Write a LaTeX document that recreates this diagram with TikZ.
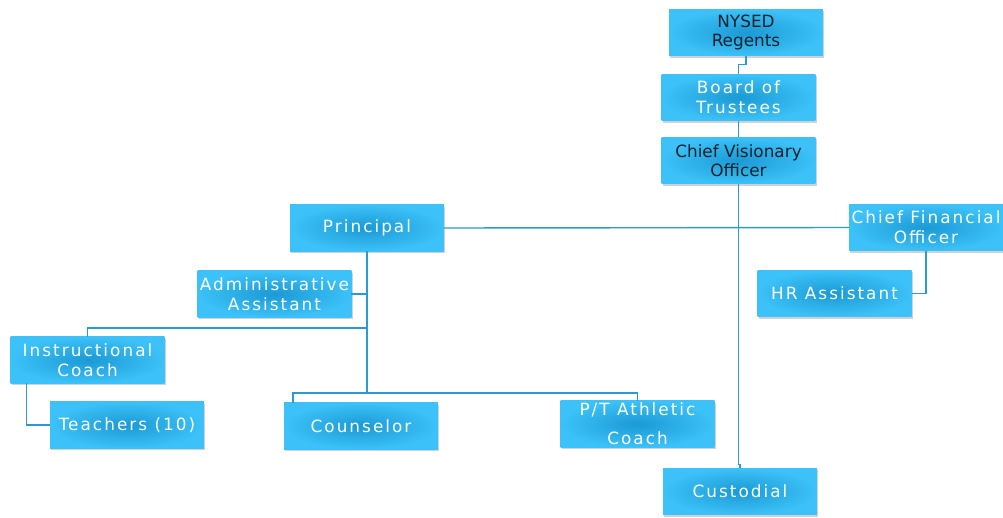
\documentclass[tikz,border=0pt]{standalone}
\usepackage{fontspec}
\usetikzlibrary{calc,shadows}
\newfontfamily\orgwide[LetterSpace=12]{DejaVu Sans}
\newfontfamily\orgplain{DejaVu Sans}
\definecolor{boxedge}{HTML}{3CC1F8}
\definecolor{boxcore}{HTML}{1B9AD5}
\definecolor{linkblue}{HTML}{2A9BD0}
\definecolor{darktext}{HTML}{14222C}
\begin{document}
\begin{tikzpicture}[
            x=0.02cm,
            y=-0.02cm,
            org box/.style={inner color=boxcore, outer color=boxedge, minimum width=3.08cm, minimum height=0.93cm, inner sep=0pt, outer sep=0pt, align=center, text=white, font=\orgwide\fontsize{9.6}{11.5}\selectfont, drop shadow={shadow xshift=0.6pt, shadow yshift=-1.2pt, opacity=0.3, fill=black!60}},
            dark box/.style={org box, text=darktext, font=\orgplain\fontsize{9.6}{10.5}\selectfont},
            link/.style={draw=linkblue, line width=0.8pt}
        ]
        \useasboundingbox (0,0) rectangle (1003,517);
        % top of the chart
        \node[dark box] (regents) at (746,32.5) {NYSED\\Regents};
        \node[org box] (board) at (738.5,97.5) {Board of\\Trustees};
        \node[dark box] (cvo) at (738.5,160.5) {Chief Visionary\\Officer};
        \node[org box] (cfo) at (926,227.5) {Chief Financial\\Officer};
        \node[org box] (hr) at (834.5,293.5) {HR Assistant};
        % school staff
        \node[org box] (principal) at (367,228) {Principal};
        \node[org box] (admin) at (274.5,294) {Administrative\\Assistant};
        \node[org box] (coach) at (87.5,360) {Instructional\\Coach};
        \node[org box] (teachers) at (127,425) {Teachers (10)};
        \node[org box] (counselor) at (361,426) {Counselor};
        \node[org box] (athletic) at (637.5,424) {P/T Athletic\\[5pt]Coach};
        \node[org box] (custodial) at (740,491.5) {Custodial};
        % connectors
        \coordinate (split) at (367,328);
        \coordinate (hub) at (367,393);
        \draw[link] (regents.south) -- ++(0,9) -| (board.north);
        \draw[link] (board.south) -- (cvo.north);
        \draw[link] (cvo.south) -- ++(0,281) -| (custodial.north);
        \draw[link] (principal.east) -- (cfo.west);
        \draw[link] (cfo.south) |- (hr.east);
        \draw[link] (principal.south) -- (hub);
        \draw[link] (admin.east) -- (admin.east -| principal.south);
        \draw[link] (split) -| (coach.north);
        \draw[link] ($(coach.south west)+(16,0)$) |- (teachers.west);
        \draw[link] (hub) -| ($(counselor.north west)+(9,0)$);
        \draw[link] (hub) -| (athletic.north);
    \end{tikzpicture}
\end{document}
